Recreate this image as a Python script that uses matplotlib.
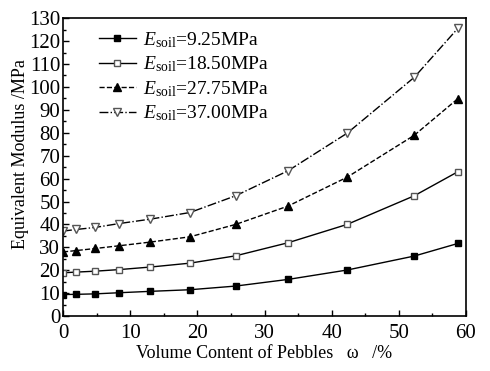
import matplotlib
matplotlib.use('Agg')
import matplotlib.pyplot as plt
from matplotlib.ticker import MultipleLocator

plt.rcParams['font.family'] = ['Liberation Serif', 'DejaVu Serif']
plt.rcParams['mathtext.fontset'] = 'custom'
plt.rcParams['mathtext.rm'] = 'Liberation Serif'
plt.rcParams['mathtext.it'] = 'Liberation Serif:italic'

# volume content of pebbles (%)
omega = [0, 2, 4.8, 8.4, 13, 18.9, 25.7, 33.5, 42.3, 52.3, 58.8]

# equivalent modulus (MPa) per soil modulus
e_925 = [9.4, 9.5, 9.7, 10.2, 10.8, 11.5, 13.1, 16.0, 20.1, 26.2, 31.7]
e_1850 = [18.9, 19.2, 19.6, 20.3, 21.4, 23.1, 26.3, 32.0, 40.0, 52.5, 63.0]
e_2775 = [28.0, 28.6, 29.5, 30.7, 32.3, 34.6, 40.0, 48.0, 60.6, 78.9, 94.9]
e_3700 = [37.1, 37.8, 38.7, 40.4, 42.3, 45.2, 52.5, 63.4, 79.8, 104.2, 125.6]

labels = [r'$E_{\mathrm{soil}}$=9.25MPa', r'$E_{\mathrm{soil}}$=18.50MPa',
          r'$E_{\mathrm{soil}}$=27.75MPa', r'$E_{\mathrm{soil}}$=37.00MPa']

fig = plt.figure(figsize=(4.9, 3.71), dpi=100)
ax = fig.add_axes([0.1286, 0.148, 0.8224, 0.803])

ax.plot(omega, e_925, '-', color='black', lw=1, marker='s', ms=5,
        mfc='black', mec='black', label=labels[0])
ax.plot(omega, e_1850, '-', color='black', lw=1, marker='s', ms=5,
        mfc='white', mec='#555555', label=labels[1])
ax.plot(omega, e_2775, '--', color='black', lw=1, marker='^', ms=6,
        mfc='black', mec='black', label=labels[2])
ax.plot(omega, e_3700, '-.', color='black', lw=1, marker='v', ms=6,
        mfc='white', mec='#555555', label=labels[3])

ax.set_xlim(0, 60)
ax.set_ylim(0, 130)
ax.xaxis.set_major_locator(MultipleLocator(10))
ax.xaxis.set_minor_locator(MultipleLocator(5))
ax.yaxis.set_major_locator(MultipleLocator(10))
ax.yaxis.set_minor_locator(MultipleLocator(5))
ax.tick_params(which='both', direction='in', top=False, right=False, labelsize=15)
ax.tick_params(which='major', length=4, width=1)
ax.tick_params(which='minor', length=2.5, width=1)
ax.tick_params(axis='x', which='major', pad=6)
ax.tick_params(axis='y', which='major', pad=2)
for s in ax.spines.values():
    s.set_linewidth(1.2)

ax.set_xlabel('Volume Content of Pebbles   ω   /%', fontsize=13, labelpad=1)
ax.set_ylabel('Equivalent Modulus /MPa', fontsize=13)
ax.yaxis.set_label_coords(-0.085, 0.545)

ax.legend(loc='upper left', frameon=False, fontsize=14, handlelength=1.9,
          borderaxespad=0.2, labelspacing=0.25, handletextpad=0.35,
          bbox_to_anchor=(0.06, 1.0))

fig.savefig('out.png', dpi=100)
